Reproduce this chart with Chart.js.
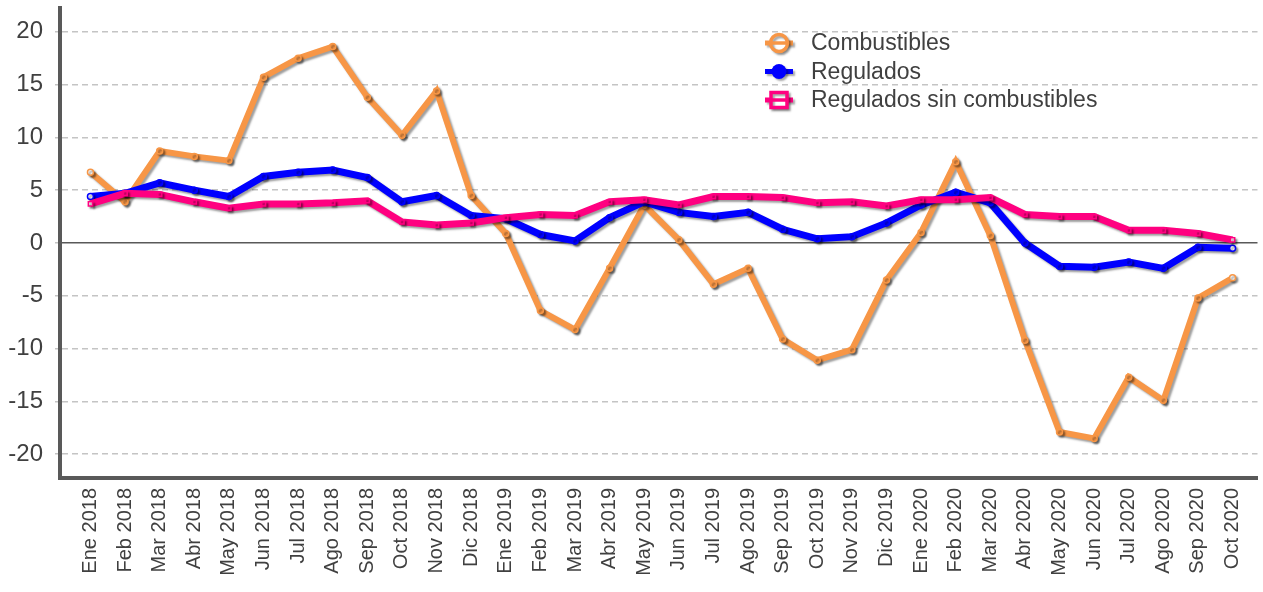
<!DOCTYPE html>
<html>
<head>
<meta charset="utf-8">
<script src="https://cdn.jsdelivr.net/npm/chart.js@4.4.1/dist/chart.umd.min.js"></script>
<style>
  html, body { margin: 0; padding: 0; background: #fff; }
  #wrap { width: 1263px; height: 592px; }
</style>
</head>
<body>
<div id="wrap"><canvas id="grafico"></canvas></div>
<script>
// Meses (ene 2018 - oct 2020)
const meses = [
  'Ene 2018','Feb 2018','Mar 2018','Abr 2018','May 2018','Jun 2018','Jul 2018','Ago 2018','Sep 2018','Oct 2018','Nov 2018','Dic 2018',
  'Ene 2019','Feb 2019','Mar 2019','Abr 2019','May 2019','Jun 2019','Jul 2019','Ago 2019','Sep 2019','Oct 2019','Nov 2019','Dic 2019',
  'Ene 2020','Feb 2020','Mar 2020','Abr 2020','May 2020','Jun 2020','Jul 2020','Ago 2020','Sep 2020','Oct 2020'
];

// Variacion anual (%)
const combustibles = [
  6.7, 3.9, 8.7, 8.2, 7.8, 15.7, 17.5, 18.6, 13.8, 10.2, 14.4, 4.5,
  0.9, -6.4, -8.2, -2.4, 3.6, 0.3, -3.9, -2.4, -9.1, -11.1, -10.1, -3.5,
  1.0, 7.7, 0.7, -9.2, -17.9, -18.5, -12.7, -14.9, -5.2, -3.3
];
const regulados = [
  4.4, 4.7, 5.7, 5.0, 4.4, 6.3, 6.7, 6.9, 6.2, 3.9, 4.5, 2.6,
  2.3, 0.8, 0.2, 2.4, 3.9, 2.9, 2.5, 2.9, 1.3, 0.4, 0.6, 1.9,
  3.6, 4.8, 3.8, 0.0, -2.2, -2.3, -1.8, -2.4, -0.4, -0.5
];
const reguladosSinComb = [
  3.7, 4.7, 4.6, 3.9, 3.3, 3.7, 3.7, 3.8, 4.0, 2.0, 1.7, 1.9,
  2.4, 2.7, 2.6, 3.9, 4.1, 3.6, 4.4, 4.4, 4.3, 3.8, 3.9, 3.5,
  4.1, 4.1, 4.3, 2.7, 2.5, 2.5, 1.2, 1.2, 0.9, 0.3
];

const yTicks = [-20, -15, -10, -5, 0, 5, 10, 15, 20];

const FUENTE = 'Liberation Sans, Arial, sans-serif';
const TEXTO = '#404040';
const EJE = '#595959';

// primer y ultimo marcador en blanco
function rellenos(color, n) {
  return Array.from({ length: n }, (_, i) => (i === 0 || i === n - 1) ? '#ffffff' : color);
}

function serie(label, valores, color, estilo, ancho, orden) {
  return {
    label: label,
    data: valores.map((v, i) => ({ x: i, y: v })),
    borderColor: color,
    backgroundColor: color,
    borderWidth: ancho,
    pointStyle: estilo,
    pointRadius: 3,
    pointBorderWidth: 1.5,
    pointBorderColor: color,
    pointBackgroundColor: rellenos(color, valores.length),
    tension: 0,
    order: orden
  };
}

// sombra gris bajo cada linea
const sombra = {
  id: 'sombra',
  beforeDatasetDraw(chart) {
    const c = chart.ctx;
    c.save();
    c.shadowColor = 'rgba(0,0,0,0.38)';
    c.shadowBlur = 2;
    c.shadowOffsetX = 2;
    c.shadowOffsetY = 2;
  },
  afterDatasetDraw(chart) {
    chart.ctx.restore();
  }
};

// leyenda dentro del area del grafico
const leyenda = {
  id: 'leyenda',
  afterDraw(chart) {
    const c = chart.ctx;
    const x0 = 765, y0 = 43, paso = 28.5;
    chart.data.datasets.forEach((ds, i) => {
      const y = y0 + i * paso;
      const cx = x0 + 14;
      c.save();
      c.shadowColor = 'rgba(0,0,0,0.35)';
      c.shadowBlur = 2;
      c.shadowOffsetX = 2;
      c.shadowOffsetY = 2;
      c.strokeStyle = ds.borderColor;
      c.lineWidth = 5;
      c.beginPath();
      c.moveTo(x0, y);
      c.lineTo(x0 + 28, y);
      c.stroke();
      c.lineWidth = 3.5;
      if (ds.pointStyle === 'circle' && i === 0) {
        c.beginPath();
        c.arc(cx, y, 8.5, 0, Math.PI * 2);
        c.fillStyle = '#fff';
        c.fill();
        c.stroke();
        c.shadowColor = 'transparent';
        c.beginPath();
        c.moveTo(cx - 8, y);
        c.lineTo(cx + 8, y);
        c.stroke();
      } else if (ds.pointStyle === 'circle') {
        c.beginPath();
        c.arc(cx, y, 7.5, 0, Math.PI * 2);
        c.fillStyle = ds.borderColor;
        c.fill();
      } else {
        c.fillStyle = '#fff';
        c.fillRect(cx - 8, y - 7.5, 16, 15);
        c.strokeRect(cx - 8, y - 7.5, 16, 15);
        c.shadowColor = 'transparent';
        c.beginPath();
        c.moveTo(cx - 8, y);
        c.lineTo(cx + 8, y);
        c.stroke();
      }
      c.restore();
      c.font = '23px ' + FUENTE;
      c.fillStyle = TEXTO;
      c.textBaseline = 'middle';
      c.textAlign = 'left';
      c.fillText(ds.label, 811, y + 1);
    });
  }
};

const config = {
  type: 'line',
  data: {
    datasets: [
      serie('Combustibles', combustibles, '#f79646', 'circle', 6, 3),
      serie('Regulados', regulados, '#0000ff', 'circle', 7, 2),
      serie('Regulados sin combustibles', reguladosSinComb, '#ff0080', 'rect', 7, 1)
    ]
  },
  options: {
    responsive: true,
    maintainAspectRatio: false,
    animation: false,
    layout: { padding: { top: 8, right: 0, bottom: 0, left: 0 } },
    plugins: {
      legend: { display: false },
      tooltip: { enabled: false }
    },
    scales: {
      x: {
        type: 'linear',
        min: -0.88,
        max: 33.72,
        afterFit(scale) {
          scale.height = 114;
          scale.paddingLeft = 0;
          scale.paddingRight = 0;
        },
        afterBuildTicks(scale) {
          scale.ticks = meses.map((_, i) => ({ value: i }));
        },
        ticks: {
          autoSkip: false,
          maxRotation: 90,
          minRotation: 90,
          padding: 10,
          color: TEXTO,
          font: { family: FUENTE, size: 20 },
          callback: (v) => meses[v]
        },
        grid: { display: false, drawTicks: false },
        border: { display: true, color: EJE, width: 4 }
      },
      y: {
        min: -22.25,
        max: 22.25,
        afterFit(scale) {
          scale.width = 60;
          scale.paddingTop = 0;
          scale.paddingBottom = 0;
        },
        afterBuildTicks(scale) {
          scale.ticks = yTicks.map(v => ({ value: v }));
        },
        ticks: {
          padding: 12,
          color: TEXTO,
          font: { family: FUENTE, size: 24 }
        },
        grid: {
          color: (ctx) => ctx.tick && ctx.tick.value === 0 ? '#595959' : '#c4c4c4',
          lineWidth: 1.5,
          drawTicks: true,
          tickLength: 5,
          tickColor: '#c4c4c4'
        },
        border: {
          display: true,
          color: EJE,
          width: 4,
          dash: (ctx) => ctx.tick && ctx.tick.value === 0 ? [] : [6, 4]
        }
      }
    }
  },
  plugins: [sombra, leyenda]
};

new Chart(document.getElementById('grafico'), config);
</script>
</body>
</html>
